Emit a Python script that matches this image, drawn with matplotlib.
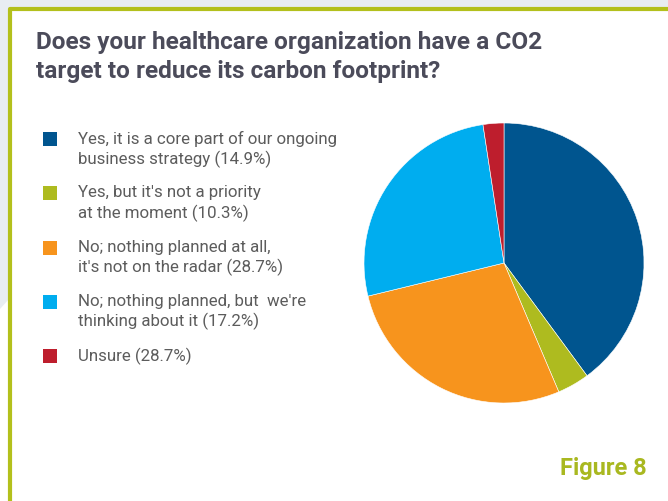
import matplotlib
matplotlib.use("Agg")
import matplotlib.pyplot as plt
from matplotlib.patches import Polygon, Rectangle

labels = [
    "Yes, it is a core part of our ongoing\nbusiness strategy (14.9%)",
    "Yes, but it's not a priority\nat the moment (10.3%)",
    "No; nothing planned at all,\nit's not on the radar (28.7%)",
    "No; nothing planned, but  we're\nthinking about it (17.2%)",
    "Unsure (28.7%)",
]
# slice sizes as drawn in the picture (they do not follow the label percentages)
shares = [39.9, 3.7, 27.6, 26.4, 2.4]
colors = ["#00558f", "#aebb1f", "#f7941d", "#00adef", "#be1e2d"]

title = "Does your healthcare organization have a CO2\ntarget to reduce its carbon footprint?"
fig_label = "Figure 8"

W, H = 668, 502
fig = plt.figure(figsize=(W / 100, H / 100), dpi=100)
fig.patch.set_facecolor("white")

# background layer in pixel coords (y down)
bg = fig.add_axes([0, 0, 1, 1])
bg.set_xlim(0, W)
bg.set_ylim(H, 0)
bg.axis("off")
bg.add_patch(Polygon([[0, 0], [760, 0], [740, 9], [9, 9], [9, 300], [0, 310]],
                     closed=True, color="#e8edf3", lw=0))
bg.plot([9.5, 9.5, 668], [502, 9.5, 9.5], color="#b3c01c", lw=3, solid_capstyle="butt")

bg.text(36, 31, title, fontsize=17.6, fontweight="bold", color="#4b4b5a",
        family="Roboto", va="top", ha="left", linespacing=1.35)

# legend drawn by hand: square + two-line text
for i, (lab, c) in enumerate(zip(labels, colors)):
    y = 140 + i * 54.3
    bg.add_patch(Rectangle((43, y - 7), 14, 14, color=c, lw=0))
    bg.text(78, y - 9, lab, fontsize=12.2, color="#5c5c5c", family="Roboto",
            va="top", ha="left", linespacing=1.3)

bg.text(647, 469, fig_label, fontsize=17, fontweight="bold", color="#a9b820",
        family="Roboto", ha="right", va="center")

ax = fig.add_axes([364 / W, 1 - 404 / H, 280 / W, 280 / H])
ax.pie(shares, colors=colors, startangle=90, counterclock=False,
       wedgeprops=dict(edgecolor="white", linewidth=0.4))
ax.set_xlim(-1, 1)
ax.set_ylim(-1, 1)
ax.set_aspect("equal")

fig.savefig("out.png", dpi=100)
